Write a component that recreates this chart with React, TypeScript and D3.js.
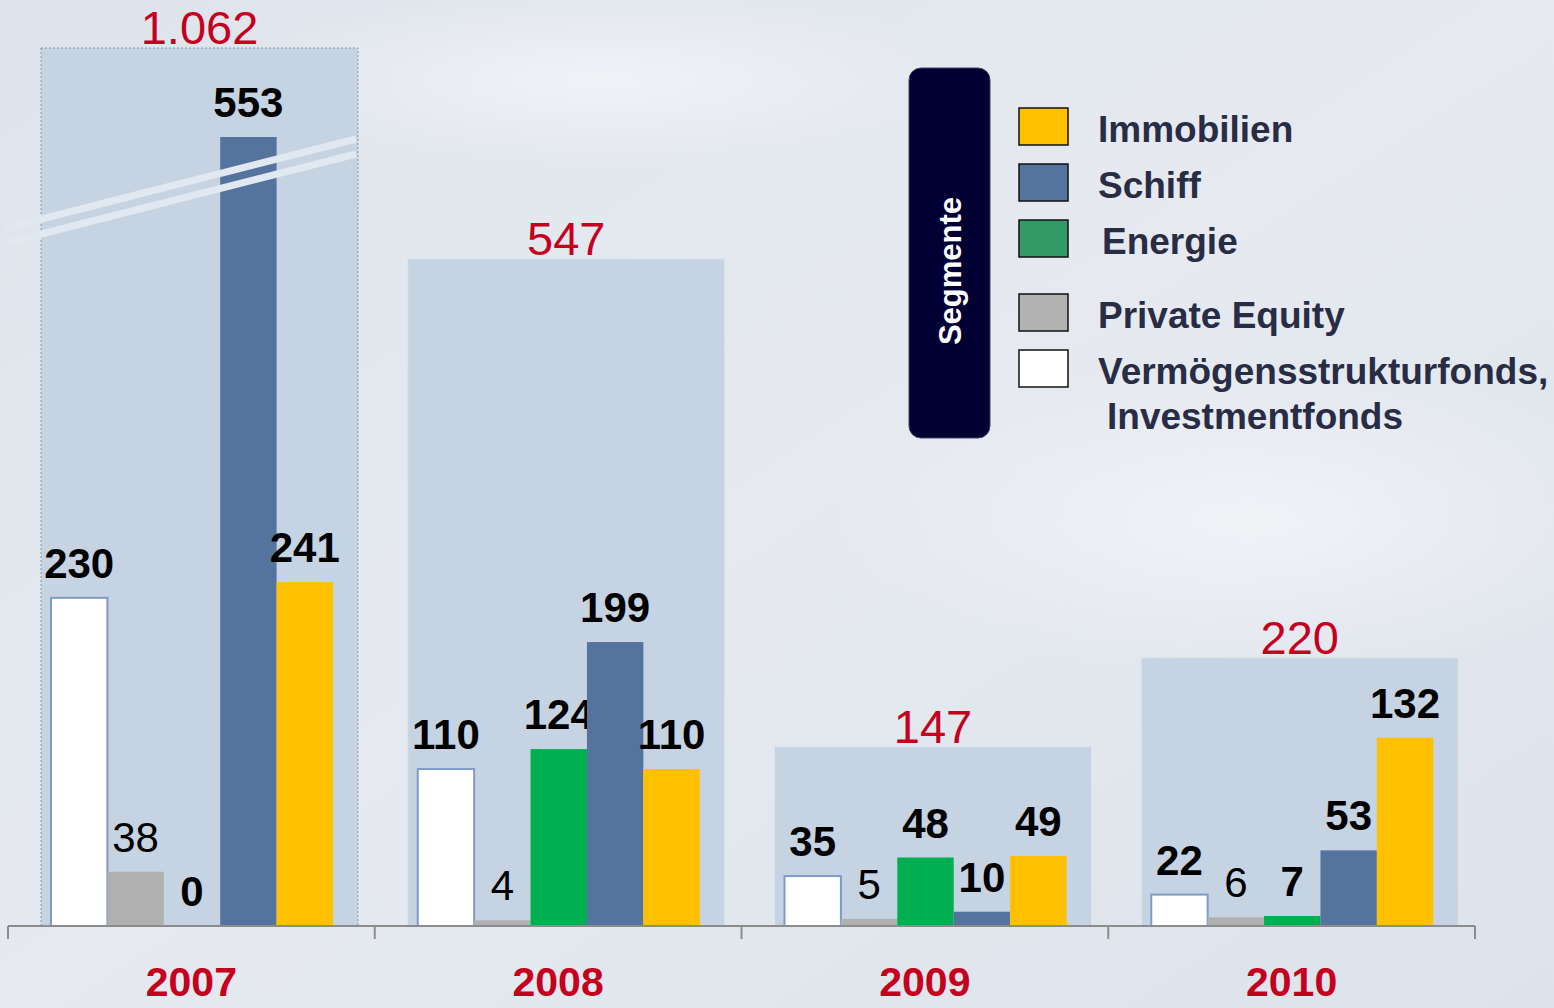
import React, { useEffect, useRef } from 'react';
import * as d3 from 'd3';

const W = 1554;
const H = 1008;

const years = ['2007', '2008', '2009', '2010'];
const totals = [1062, 547, 147, 220];
const totalLabels = ['1.062', '547', '147', '220'];
const segments = ['Vermögensstrukturfonds', 'Private Equity', 'Energie', 'Schiff', 'Immobilien'];
const vermoegen = [230, 110, 35, 22];
const privateEquity = [38, 4, 5, 6];
const energie = [0, 124, 48, 7];
const schiff = [553, 199, 10, 53];
const immobilien = [241, 110, 49, 132];
const seriesValues = [vermoegen, privateEquity, energie, schiff, immobilien];
const segColors = ['#ffffff', '#b0b0b0', '#00b050', '#54739f', '#ffc000'];

const legendLabels = ['Immobilien', 'Schiff', 'Energie', 'Private Equity', 'Vermögensstrukturfonds,'];
const legendColors = ['#ffc000', '#54739f', '#339966', '#b2b2b2', '#ffffff'];

export default function App() {
  const ref = useRef<SVGSVGElement>(null);

  useEffect(() => {
    const svg = d3.select(ref.current);
    svg.selectAll('*').remove();

    const defs = svg.append('defs');
    const bg = defs.append('linearGradient').attr('id', 'bg').attr('x1', '0').attr('y1', '0').attr('x2', '1').attr('y2', '1');
    bg.append('stop').attr('offset', '0%').attr('stop-color', '#dfe4ec');
    bg.append('stop').attr('offset', '50%').attr('stop-color', '#e6eaf0');
    bg.append('stop').attr('offset', '100%').attr('stop-color', '#dde3eb');
    const glow = defs.append('radialGradient').attr('id', 'glow');
    glow.append('stop').attr('offset', '0%').attr('stop-color', '#f3f5f8').attr('stop-opacity', 0.8);
    glow.append('stop').attr('offset', '100%').attr('stop-color', '#f3f5f8').attr('stop-opacity', 0);

    svg.append('rect').attr('width', W).attr('height', H).attr('fill', 'url(#bg)');
    svg.append('ellipse').attr('cx', 1250).attr('cy', 520).attr('rx', 420).attr('ry', 160).attr('fill', 'url(#glow)');
    svg.append('ellipse').attr('cx', 600).attr('cy', 80).attr('rx', 380).attr('ry', 90).attr('fill', 'url(#glow)');

    const baseY = 926;
    const x = d3.scaleBand<string>().domain(years).range([8, 1475]).padding(0);
    const inner = d3.scaleBand<number>().domain(d3.range(segments.length)).range([43, 325]).padding(0);
    const y = d3.scaleLinear().domain([0, 553]).range([baseY, 137]);
    const yTotal = d3.scaleLinear().domain([0, 720]).range([baseY, 48]).clamp(true);

    const font = 'Liberation Sans, Arial, sans-serif';

    // total background boxes
    years.forEach((yr, i) => {
      const x0 = x(yr)! + 33;
      const top = yTotal(totals[i]);
      svg.append('rect')
        .attr('x', x0).attr('y', top)
        .attr('width', 317).attr('height', baseY - top)
        .attr('fill', '#c5d3e3')
        .attr('stroke', i === 0 ? '#8a96a8' : '#dbe4ee')
        .attr('stroke-width', 1)
        .attr('stroke-dasharray', i === 0 ? '2,2' : null);
      svg.append('text')
        .attr('x', x0 + 317 / 2).attr('y', top - 4)
        .attr('text-anchor', 'middle')
        .attr('font-family', font).attr('font-size', 47)
        .attr('fill', '#c5001f')
        .text(totalLabels[i]);
    });

    // bars
    seriesValues.forEach((vals, s) => {
      vals.forEach((v, i) => {
        const bx = x(years[i])! + inner(s)!;
        const top = y(v);
        svg.append('rect')
          .attr('x', bx).attr('y', top)
          .attr('width', inner.bandwidth()).attr('height', baseY - top)
          .attr('fill', segColors[s])
          .attr('stroke', s === 0 ? '#7f9cc6' : 'none')
          .attr('stroke-width', 2);
        svg.append('text')
          .attr('x', bx + inner.bandwidth() / 2).attr('y', top - 20)
          .attr('text-anchor', 'middle')
          .attr('font-family', font).attr('font-size', 42)
          .attr('font-weight', s === 1 ? 'normal' : 'bold')
          .attr('fill', '#000')
          .text(v);
      });
    });

    // axis break marks over 2007
    const brk = d3.line();
    [0, 15].forEach(off => {
      svg.append('path')
        .attr('d', brk([[6, 228 + off], [356, 139 + off]]))
        .attr('stroke', '#e1e8f0').attr('stroke-width', 7).attr('fill', 'none');
    });

    // axis
    const axis = svg.append('g');
    axis.append('line').attr('x1', 8).attr('x2', 1475).attr('y1', baseY).attr('y2', baseY)
      .attr('stroke', '#8c8c8c').attr('stroke-width', 2);
    const ticks = years.map(yr => x(yr)!).concat([x.range()[1]]);
    ticks.forEach(t => {
      axis.append('line').attr('x1', t).attr('x2', t).attr('y1', baseY).attr('y2', 939)
        .attr('stroke', '#8c8c8c').attr('stroke-width', 2);
    });
    years.forEach(yr => {
      axis.append('text')
        .attr('x', x(yr)! + x.bandwidth() / 2).attr('y', 996)
        .attr('text-anchor', 'middle')
        .attr('font-family', font).attr('font-size', 41).attr('font-weight', 'bold')
        .attr('fill', '#c5001f')
        .text(yr);
    });

    // legend
    const lg = svg.append('g');
    lg.append('rect').attr('x', 909).attr('y', 68).attr('width', 81).attr('height', 370)
      .attr('rx', 12).attr('fill', '#000033').attr('stroke', '#3a4366').attr('stroke-width', 1);
    lg.append('text')
      .attr('transform', 'translate(961,271) rotate(-90)')
      .attr('text-anchor', 'middle')
      .attr('font-family', font).attr('font-size', 31).attr('font-weight', 'bold')
      .attr('fill', '#fff')
      .text('Segmente');
    legendLabels.forEach((lab, i) => {
      const ly = 108 + i * 56 + (i >= 3 ? 18 : 0);
      lg.append('rect').attr('x', 1019).attr('y', ly).attr('width', 49).attr('height', 37)
        .attr('fill', legendColors[i]).attr('stroke', '#111').attr('stroke-width', 1.5);
      lg.append('text')
        .attr('x', i === 2 ? 1102 : 1098).attr('y', ly + 34)
        .attr('font-family', font).attr('font-size', 37).attr('font-weight', 'bold')
        .attr('fill', '#282d45')
        .text(lab);
    });
    lg.append('text')
      .attr('x', 1107).attr('y', 429)
      .attr('font-family', font).attr('font-size', 37).attr('font-weight', 'bold')
      .attr('fill', '#282d45')
      .text('Investmentfonds');
  }, []);

  return (
    <svg ref={ref} width={W} height={H} style={{ position: 'absolute', left: 0, top: 0 }} />
  );
}
